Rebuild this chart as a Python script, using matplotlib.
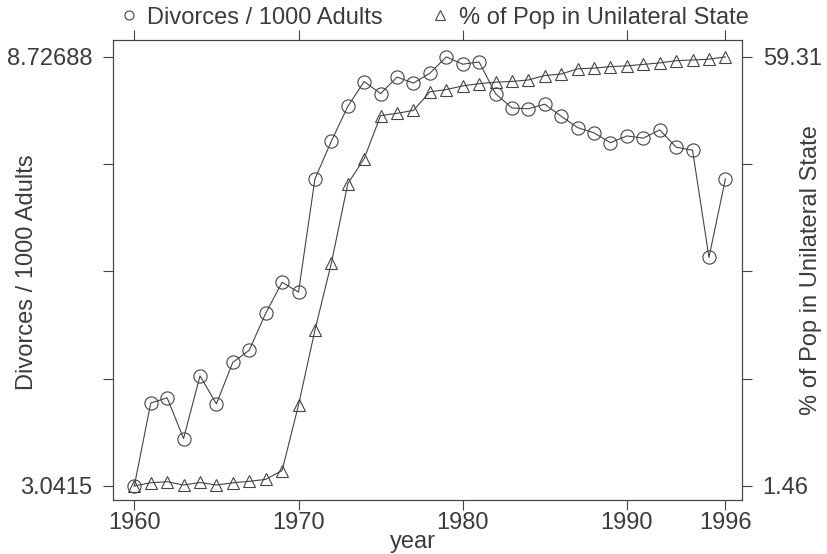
import numpy as np
import matplotlib
matplotlib.use("Agg")
import matplotlib.pyplot as plt
from matplotlib.lines import Line2D

plt.rcParams['font.family'] = ['Liberation Sans', 'DejaVu Sans']

years = list(range(1960, 1997))
divorces = [3.0415, 4.14, 4.21, 3.67, 4.50, 4.13, 4.68, 4.84, 5.33, 5.74,
            5.61, 7.11, 7.61, 8.07, 8.40, 8.24, 8.46, 8.38, 8.51, 8.72688,
            8.63, 8.66, 8.24, 8.05, 8.04, 8.10, 7.94, 7.79, 7.72, 7.59,
            7.68, 7.65, 7.76, 7.53, 7.49, 6.07, 7.11]
unilateral = [1.46, 1.90, 2.03, 1.59, 1.93, 1.59, 1.89, 2.09, 2.35, 3.54,
              12.37, 22.47, 31.5, 42.2, 45.6, 51.4, 51.7, 52.1, 54.6, 54.9,
              55.4, 55.7, 55.9, 56.0, 56.2, 56.8, 57.0, 57.7, 57.8, 58.0,
              58.1, 58.3, 58.5, 58.8, 58.9, 59.0, 59.31]
xticks = [1960, 1970, 1980, 1990, 1996]

ink = "#444444"
txt = "#3c3c3c"
fs = 17

fig = plt.figure(figsize=(8.27, 5.54), dpi=100)
ax = fig.add_axes([0.1366, 0.0975, 0.7604, 0.8305])
ax2 = ax.twinx()

ax.plot(years, divorces, color=ink, lw=0.8, marker='o', ms=9.5,
        mfc='none', mec=ink, mew=0.8)
ax2.plot(years, unilateral, color=ink, lw=0.8, marker='^', ms=8,
         mfc='none', mec=ink, mew=0.8)

# axis ranges
dmin, dmax = min(divorces), max(divorces)
umin, umax = min(unilateral), max(unilateral)
lo_f, hi_f = 14 / 429, 17 / 429
ax.set_ylim(dmin - lo_f * (dmax - dmin), dmax + hi_f * (dmax - dmin))
ax2.set_ylim(umin - lo_f * (umax - umin), umax + hi_f * (umax - umin))
ax.set_xlim(1958.7, 1997.0)

ax.set_yticks(np.linspace(dmin, dmax, 5))
ax.set_yticklabels(['3.0415', '', '', '', '8.72688'])
ax2.set_yticks(np.linspace(umin, umax, 5))
ax2.set_yticklabels(['1.46', '', '', '', '59.31'])
ax.set_xticks(xticks)
ax.set_xticklabels([str(x) for x in xticks])

ax.tick_params(axis='x', which='both', top=True, labeltop=False,
               direction='out', length=7, width=0.8, color=ink,
               labelsize=fs, labelcolor=txt, pad=2)
ax.tick_params(axis='y', direction='out', length=7, width=0.8, color=ink,
               labelsize=fs, labelcolor=txt, pad=8)
ax2.tick_params(axis='y', direction='out', length=7, width=0.8, color=ink,
                labelsize=fs, labelcolor=txt, pad=8)

for a in (ax, ax2):
    for s in a.spines.values():
        s.set_color(ink)
        s.set_linewidth(0.8)

ax.set_xlabel('year', fontsize=fs, color=txt)
ax.xaxis.set_label_coords(0.477, -0.068)
ax.set_ylabel('Divorces / 1000 Adults', fontsize=fs, color=txt)
ax.yaxis.set_label_coords(-0.120, 0.496)
ax2.set_ylabel('% of Pop in Unilateral State', fontsize=fs, color=txt)
ax2.yaxis.set_label_coords(1.093, 0.5)

handles = [Line2D([], [], ls='none', marker='o', ms=6.5, mfc='none', mec=ink, mew=0.8),
           Line2D([], [], ls='none', marker='^', ms=6.5, mfc='none', mec=ink, mew=0.8)]
fig.legend(handles, ['Divorces / 1000 Adults', '% of Pop in Unilateral State'],
           loc='center', bbox_to_anchor=(0.526, 0.968), ncol=2, frameon=False,
           fontsize=fs, labelcolor=txt, handlelength=0.6, handletextpad=0.5,
           columnspacing=2.1, borderpad=0)

fig.savefig('out.png', dpi=100)
